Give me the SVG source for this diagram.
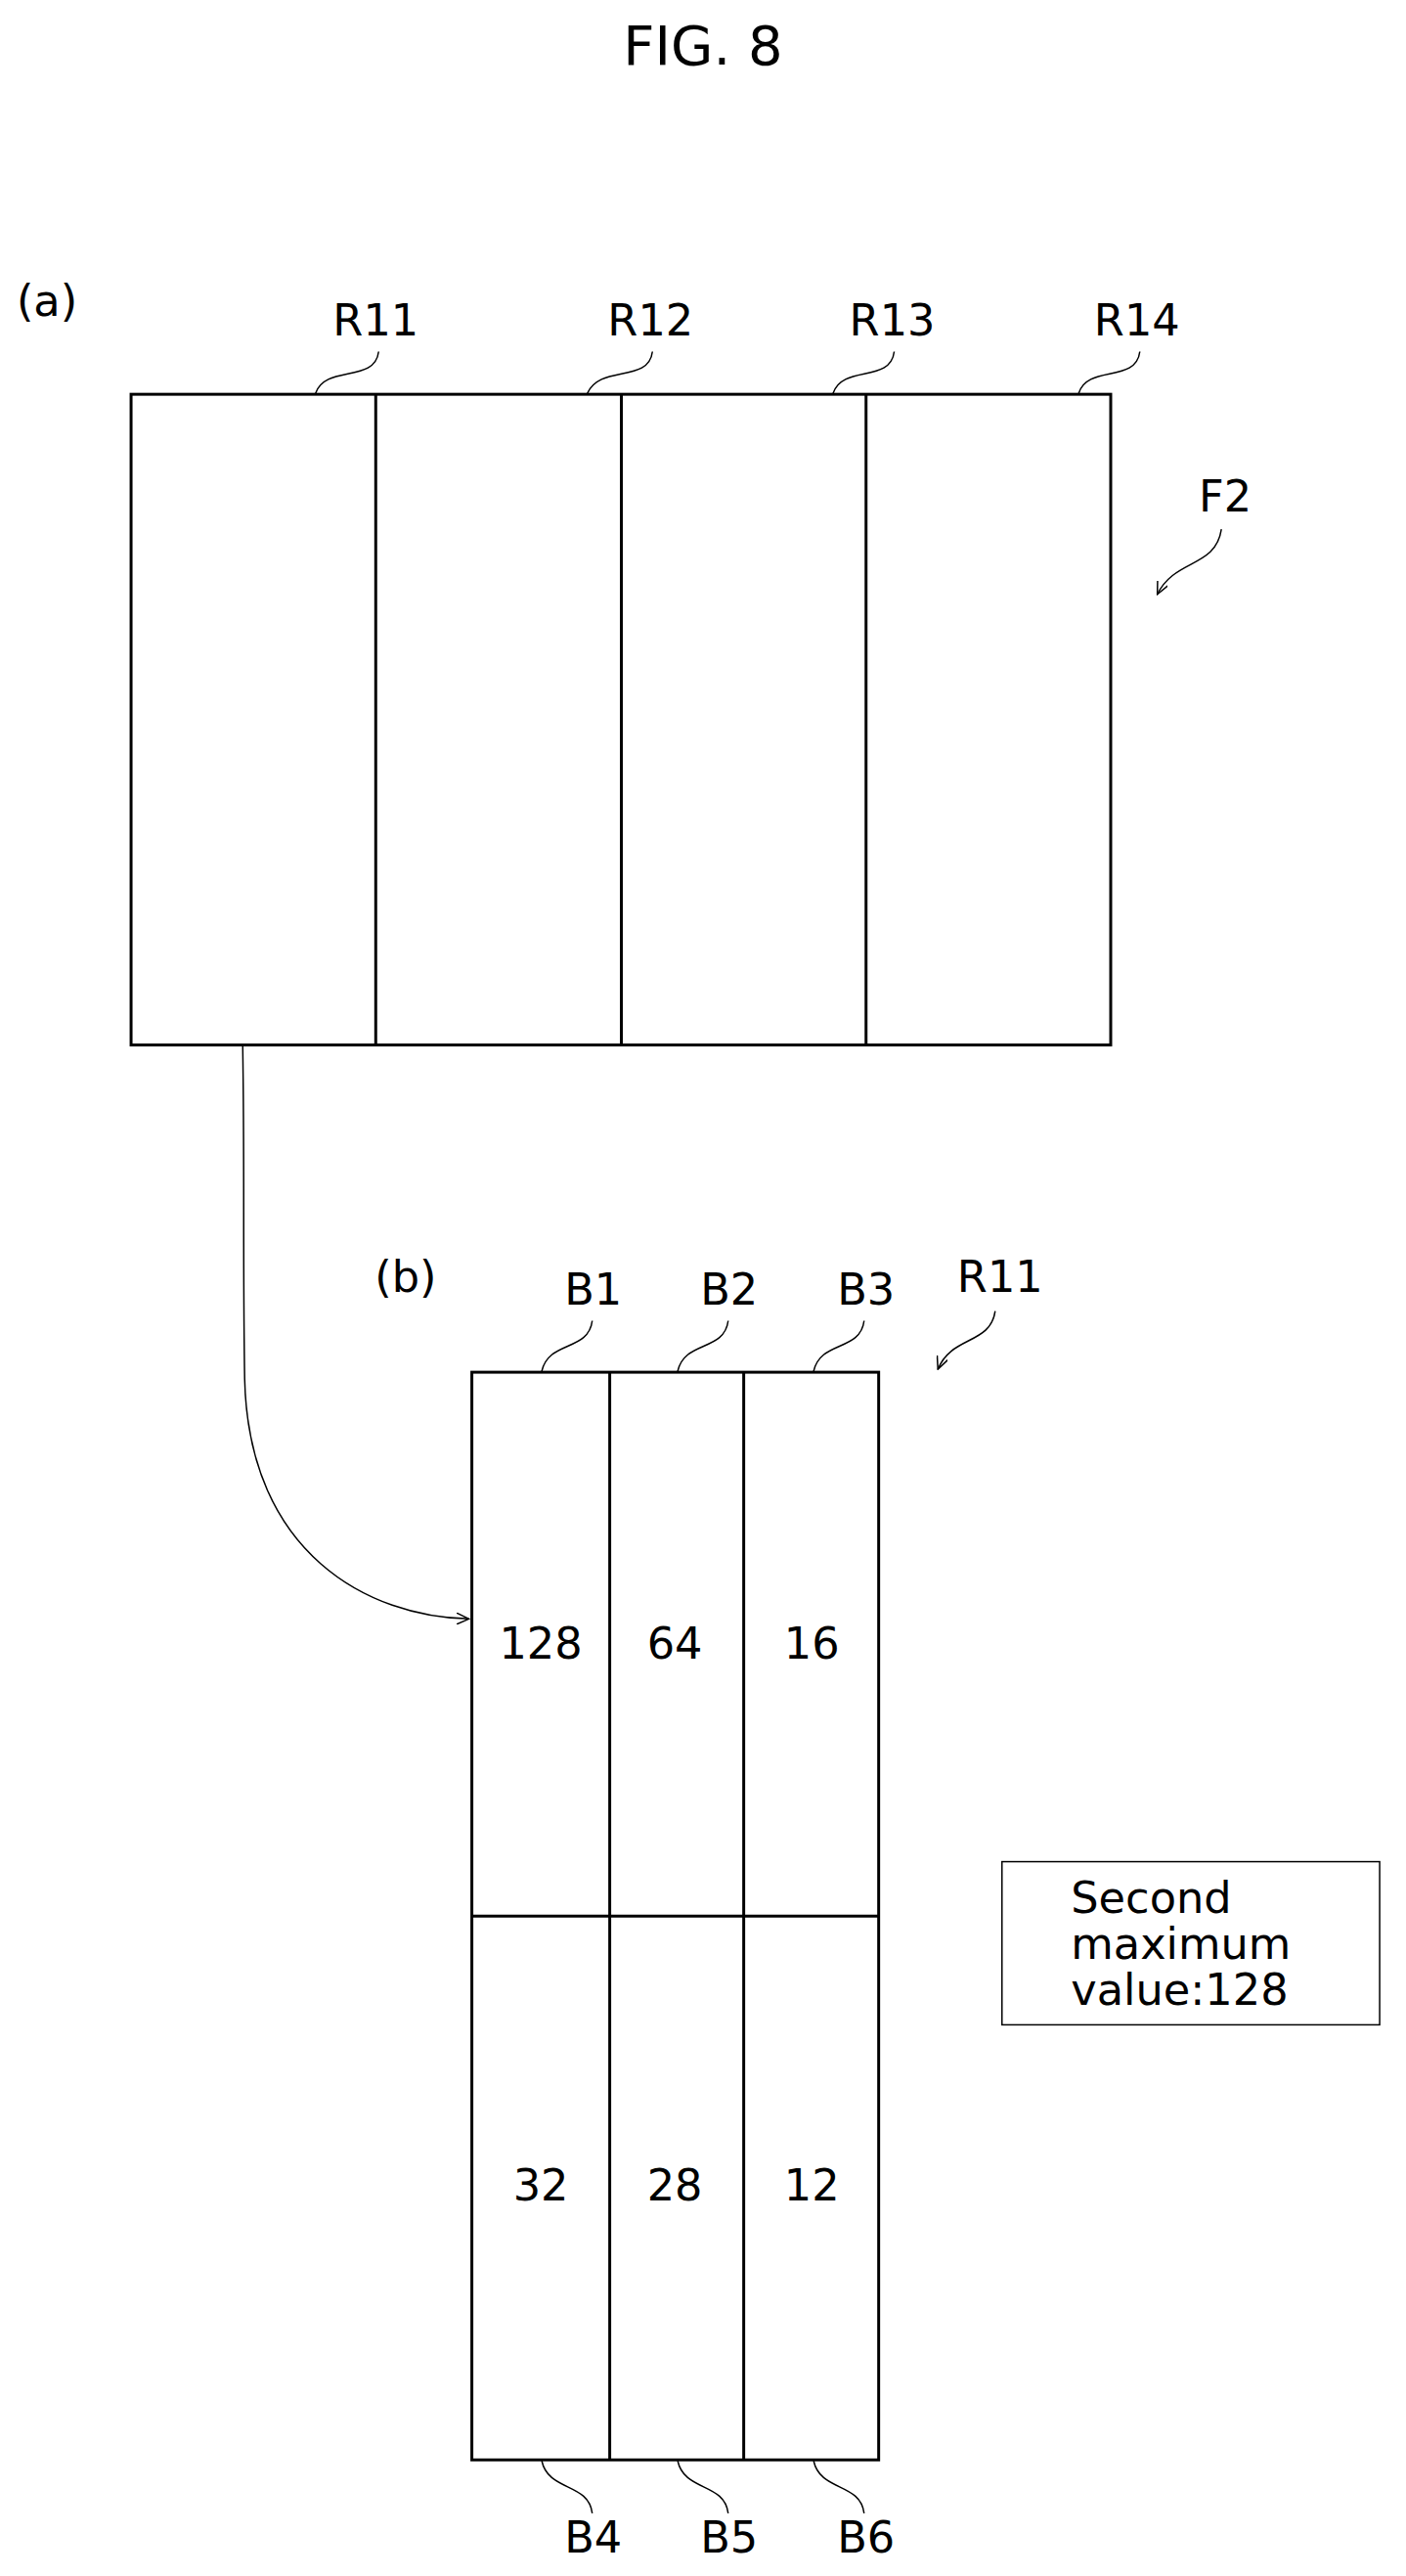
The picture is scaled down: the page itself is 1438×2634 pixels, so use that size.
<svg xmlns="http://www.w3.org/2000/svg" width="1438" height="2634" viewBox="0 0 1438 2634">
<style>
text{font-family:"DejaVu Sans","Liberation Sans",sans-serif;fill:#000;font-size:45px}
.c{text-anchor:middle}
.ln{fill:none;stroke:#000;stroke-width:3}
.th{fill:none;stroke:#000;stroke-width:1.5}
</style>
<defs><marker id="ah" markerWidth="14" markerHeight="12" refX="13" refY="6" orient="auto" markerUnits="userSpaceOnUse"><path d="M0,0 L13,6 L0,12" fill="none" stroke="#000" stroke-width="1.5"/></marker></defs>
<rect width="1438" height="2634" fill="#fff"/>
<text class="c" x="719" y="66" style="font-size:56px">FIG. 8</text>
<g transform="scale(0.993)">
<g id="frame-a">
<text x="17" y="325">(a)</text>
<rect class="ln" x="135" y="406" width="1009" height="670"/>
<line class="ln" x1="387" y1="406" x2="387" y2="1076"/>
<line class="ln" x1="640" y1="406" x2="640" y2="1076"/>
<line class="ln" x1="892" y1="406" x2="892" y2="1076"/>
</g>
<g id="labels-a">
<text class="c" x="387" y="345">R11</text>
<text class="c" x="670" y="345">R12</text>
<text class="c" x="919" y="345">R13</text>
<text class="c" x="1171" y="345">R14</text>
<text class="c" x="1262" y="527">F2</text>
<path class="th" d="M390,362 C386,395 335,375 325,405"/>
<path class="th" d="M672,362 C668,395 618,375 605,405"/>
<path class="th" d="M921,362 C917,395 868,375 858,405"/>
<path class="th" d="M1174,362 C1170,395 1120,375 1111,405"/>
<path class="th" d="M1258,545 C1252,585 1210,575 1192,612" marker-end="url(#ah)"/>
</g>
<g id="frame-b">
<text x="386" y="1330">(b)</text>
<rect class="ln" x="486" y="1413" width="419" height="1120"/>
<line class="ln" x1="628" y1="1413" x2="628" y2="2533"/>
<line class="ln" x1="766" y1="1413" x2="766" y2="2533"/>
<line class="ln" x1="486" y1="1973" x2="905" y2="1973"/>
<text class="c" x="557" y="1708">128</text>
<text class="c" x="695" y="1708">64</text>
<text class="c" x="836" y="1708">16</text>
<text class="c" x="557" y="2266">32</text>
<text class="c" x="695" y="2266">28</text>
<text class="c" x="836" y="2266">12</text>
</g>
<g id="labels-b">
<text class="c" x="611" y="1343">B1</text>
<text class="c" x="751" y="1343">B2</text>
<text class="c" x="892" y="1343">B3</text>
<text class="c" x="1030" y="1330">R11</text>
<text class="c" x="611" y="2628">B4</text>
<text class="c" x="751" y="2628">B5</text>
<text class="c" x="892" y="2628">B6</text>
<path class="th" d="M610,1360 C606,1392 565,1380 558,1412"/>
<path class="th" d="M750,1360 C746,1392 705,1380 698,1412"/>
<path class="th" d="M890,1360 C886,1392 845,1380 838,1412"/>
<path class="th" d="M1025,1350 C1020,1385 980,1375 966,1410" marker-end="url(#ah)"/>
<path class="th" d="M558,2534 C565,2566 606,2556 610,2588"/>
<path class="th" d="M698,2534 C705,2566 746,2556 750,2588"/>
<path class="th" d="M838,2534 C845,2566 886,2556 890,2588"/>
</g>
<g id="note">
<rect class="th" x="1032" y="1917" width="389" height="168"/>
<text x="1103" y="1970">Second</text>
<text x="1103" y="2017">maximum</text>
<text x="1103" y="2064">value:128</text>
</g>
<g id="connectors">
<path class="th" d="M250,1077 C252,1200 250,1300 252,1420 C256,1600 380,1665 483,1667" marker-end="url(#ah)"/>
</g>
</g>
</svg>
